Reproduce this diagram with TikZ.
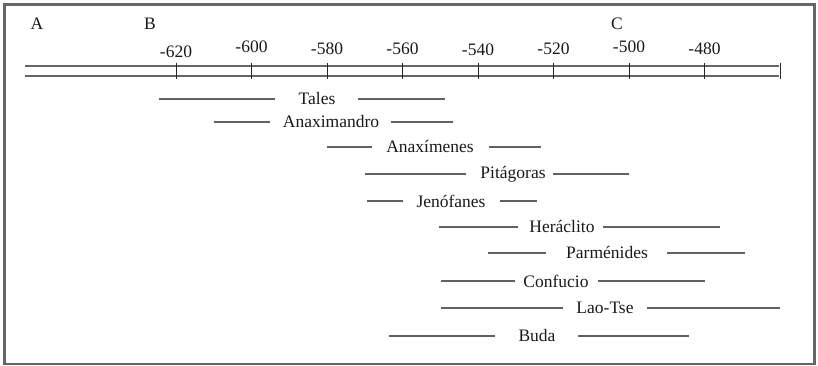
\documentclass[tikz,border=0pt]{standalone}
\usepackage{fontspec}
\setmainfont{Liberation Serif}
\usepackage{tikz}
\usetikzlibrary{
        positioning
    }
\tikzset{frame/.style={draw=black!60,line width=2.5pt}}
\tikzset{axis/.style={draw=black!60,line width=1.2pt,double,double distance=8.8pt}}
\tikzset{tick/.style={draw=black!85,line width=0.9pt}}
\tikzset{label/.style={text=black!90,inner sep=0pt,font=\fontsize{17.5}{20}\selectfont}}
\tikzset{span/.style={draw=black!62,line width=1.3pt}}

\begin{document}
\begin{tikzpicture}[x=1pt,y=-1pt]
                    \useasboundingbox (0,0) rectangle (818,366);
                    \draw[frame] (4.5,4.5) rectangle (814.5,364);
                    \node[label] (la) at (37,24)  {A};
                    \node[label] (lb) at (150,24) {B};
                    \node[label] (lc) at (617,24) {C};
                    \coordinate (axl) at (25,71);
                    \coordinate (axr) at (779,71);
                    \draw[axis] (axl) -- (axr);
                    \foreach \yr/\ly in {-620/52,-600/47,-580/49,-560/49,-540/50,-520/49,-500/47,-480/49} {
                        \node[label] (y\yr) at ({176+3.775*(\yr+620)},\ly) {\yr};
                    }
                    \foreach \yr in {-620,-600,...,-460} {
                        \coordinate (t\yr a) at ({176+3.775*(\yr+620)},63);
                        \coordinate (t\yr b) at ({176+3.775*(\yr+620)},79);
                        \draw[tick] (t\yr a) -- (t\yr b);
                    }
                    \foreach \n/\y/\a/\b/\c/\d/\e/\who in {
                        1/99/159/275/317/358/445/Tales,
                        2/122/214/270/331/391/453/Anaximandro,
                        3/147/327/372/430/489/541/Anaxímenes,
                        4/174/365/466/513/553/629/Pitágoras,
                        5/201/367/403/451/500/537/Jenófanes,
                        6/227/439/518/562/603/720/Heráclito,
                        7/253/488/546/607/667/745/Parménides,
                        8/281/441/515/556/598/705/Confucio,
                        9/308/441/563/605/647/780/Lao-Tse,
                        10/336/389/495/537/578/689/Buda} {
                        \node[label] (p\n) at (\c,\y) {\who};
                        \coordinate (p\n a) at (\a,\y);
                        \coordinate (p\n b) at (\b,\y);
                        \coordinate (p\n c) at (\d,\y);
                        \coordinate (p\n d) at (\e,\y);
                        \draw[span] (p\n a) -- (p\n b) (p\n c) -- (p\n d);
                    }
                \end{tikzpicture}
\end{document}
